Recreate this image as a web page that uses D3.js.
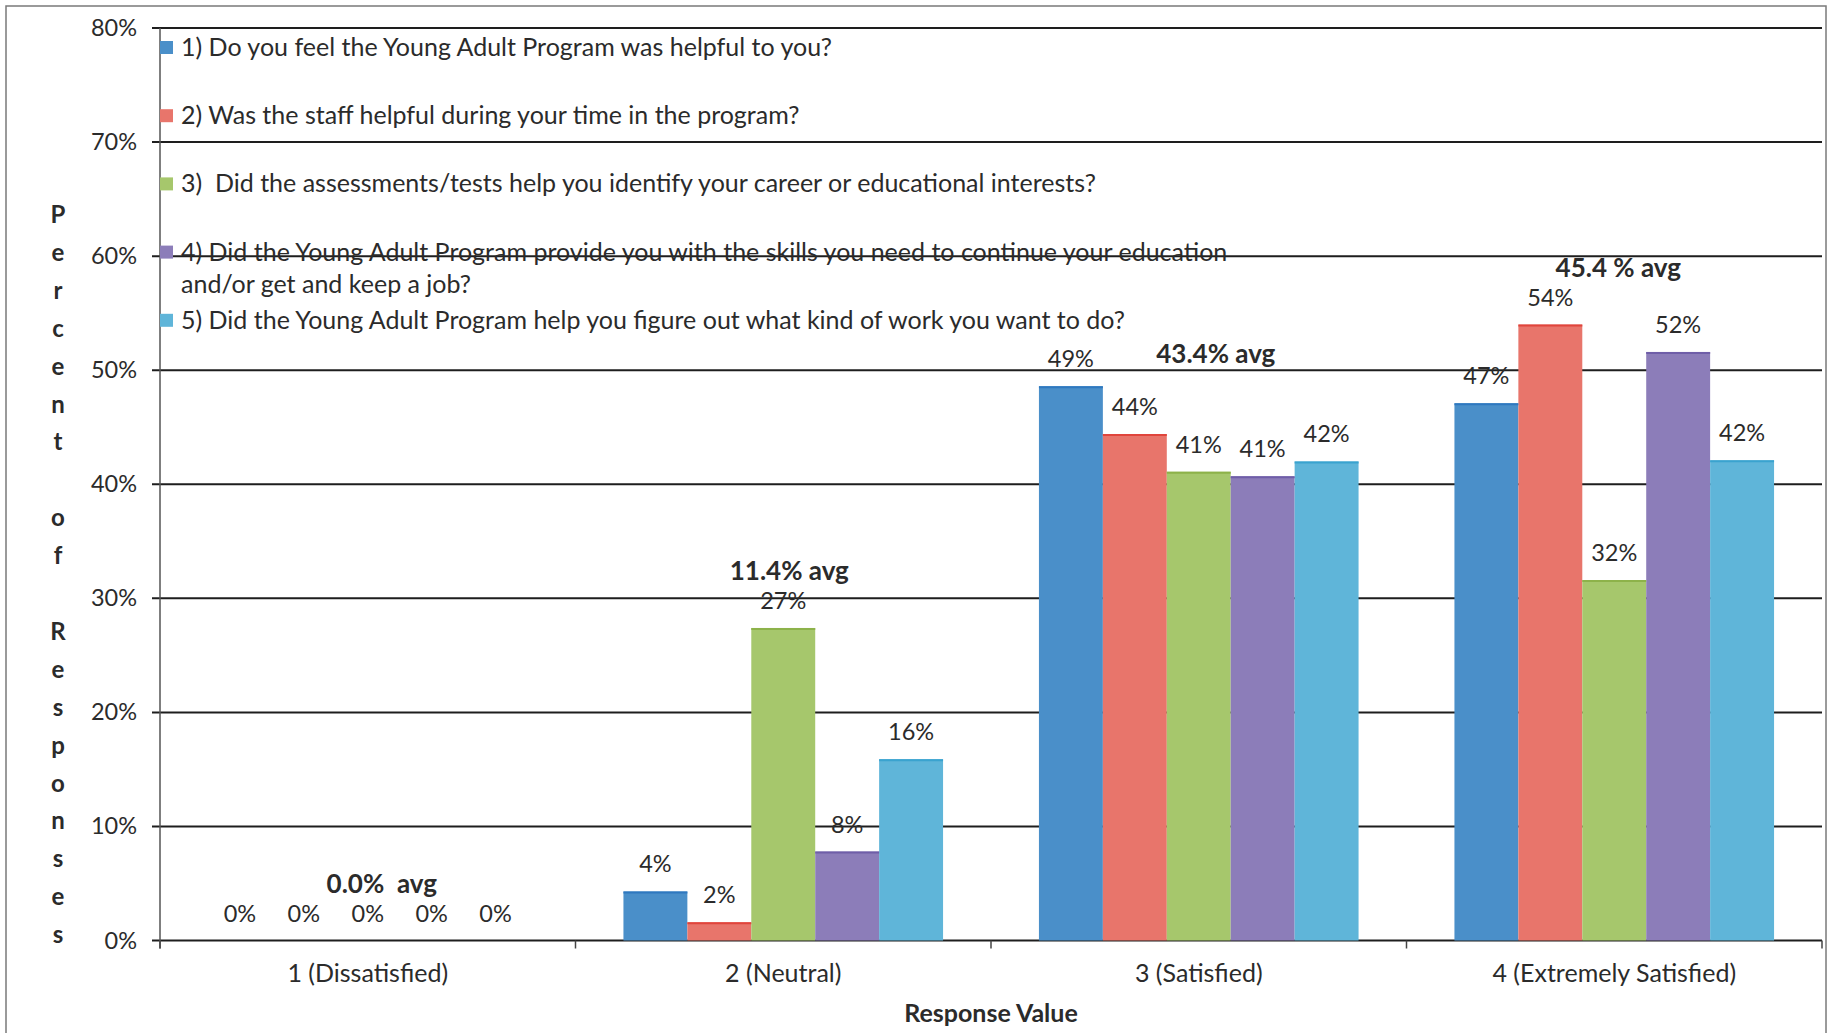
<!DOCTYPE html>
<html>
<head>
<meta charset="utf-8">
<script src="https://cdn.jsdelivr.net/npm/d3@7"></script>
<style>
  body { margin: 0; background: #fff; }
  text { font-family: Lato, "Noto Sans", sans-serif; fill: #2b2b2b; white-space: pre; }
</style>
</head>
<body>
<svg id="chart" width="1832" height="1033"></svg>
<script>
//chart data
var categories = ["1 (Dissatisfied)", "2 (Neutral)", "3 (Satisfied)", "4 (Extremely Satisfied)"];
var questions = [
    "1) Do you feel the Young Adult Program was helpful to you?",
    "2) Was the staff helpful during your time in the program?",
    "3)  Did the assessments/tests help you identify your career or educational interests?",
    "4) Did the Young Adult Program provide you with the skills you need to continue your education|and/or get and keep a job?",
    "5) Did the Young Adult Program help you figure out what kind of work you want to do?"
];
var q1 = [0, 4.3, 48.6, 47.1];
var q2 = [0, 1.6, 44.4, 54.0];
var q3 = [0, 27.4, 41.1, 31.6];
var q4 = [0, 7.8, 40.7, 51.6];
var q5 = [0, 15.9, 42.0, 42.1];
var avgLabels = ["0.0%  avg", "11.4% avg", "43.4% avg", "45.4 % avg"];
var yTicks = [0, 10, 20, 30, 40, 50, 60, 70, 80];
var yTitle = "Percent of Responses";
var xTitle = "Response Value";

var series = [q1, q2, q3, q4, q5];
var colors = ["#4a8fc9", "#e8756b", "#a6c76c", "#8c7db9", "#5fb5d9"];
var edges = ["#2f78bf", "#e0453c", "#8db24a", "#6f5ea8", "#3aa3cf"];

//layout
var plotLeft = 160, plotRight = 1822, plotTop = 28, plotBottom = 940.5;
var svg = d3.select("#chart");

var y = d3.scaleLinear().domain([0, 80]).range([plotBottom, plotTop]);
var x0 = d3.scaleBand().domain(categories).range([plotLeft, plotRight]);
var x1 = d3.scaleBand().domain(d3.range(series.length)).range([0, x0.bandwidth()]).paddingOuter(0.75);

//outer frame
svg.append("rect")
    .attr("x", 6).attr("y", 6)
    .attr("width", 1820).attr("height", 1100)
    .attr("fill", "none")
    .attr("stroke", "#7a7a7a")
    .attr("stroke-width", 1.5);

//gridlines
svg.append("g")
    .selectAll("line")
    .data(yTicks)
    .enter().append("line")
    .attr("x1", plotLeft - 8)
    .attr("x2", plotRight)
    .attr("y1", function(d) { return y(d); })
    .attr("y2", function(d) { return y(d); })
    .attr("stroke", "#1e1e1e")
    .attr("stroke-width", 2);

//y axis labels
svg.append("g")
    .selectAll("text")
    .data(yTicks)
    .enter().append("text")
    .attr("x", 137)
    .attr("y", function(d) { return y(d) + 8; })
    .attr("text-anchor", "end")
    .style("font-size", "23.5px")
    .text(function(d) { return d + "%"; });

//y axis line
svg.append("line")
    .attr("x1", plotLeft).attr("x2", plotLeft)
    .attr("y1", plotTop).attr("y2", plotBottom + 8)
    .attr("stroke", "#555")
    .attr("stroke-width", 1.5);

//category ticks on the base line
var catEdges = categories.map(function(c) { return x0(c); }).concat([plotRight]);
svg.append("g")
    .selectAll("line")
    .data(catEdges)
    .enter().append("line")
    .attr("x1", function(d) { return d; })
    .attr("x2", function(d) { return d; })
    .attr("y1", plotBottom)
    .attr("y2", plotBottom + 8)
    .attr("stroke", "#444")
    .attr("stroke-width", 1.5);

//legend
var legend = svg.append("g");
questions.forEach(function(q, i) {
    var cy = 47 + i * 68.2;
    legend.append("rect")
        .attr("x", plotLeft).attr("y", cy - 6)
        .attr("width", 13).attr("height", 13)
        .attr("fill", colors[i]);
    var parts = q.split("|");
    parts.forEach(function(p, k) {
        legend.append("text")
            .attr("x", 181)
            .attr("y", cy + 9 + k * 32)
            .style("font-size", "25px")
            .text(p);
    });
});

//bars
var groups = svg.append("g")
    .selectAll("g")
    .data(categories)
    .enter().append("g")
    .attr("transform", function(d) { return "translate(" + x0(d) + ",0)"; });

function cells(d, ci) {
    return series.map(function(s, si) { return {s: si, v: s[ci]}; });
}

groups.selectAll("rect")
    .data(cells)
    .enter().append("rect")
    .attr("x", function(d) { return x1(d.s); })
    .attr("width", x1.bandwidth())
    .attr("y", function(d) { return y(d.v); })
    .attr("height", function(d) { return plotBottom - y(d.v); })
    .attr("fill", function(d) { return colors[d.s]; });

//darker top edge of each bar
groups.selectAll("line.edge")
    .data(cells)
    .enter().append("line")
    .attr("class", "edge")
    .attr("x1", function(d) { return x1(d.s); })
    .attr("x2", function(d) { return x1(d.s) + x1.bandwidth(); })
    .attr("y1", function(d) { return y(d.v) + 1; })
    .attr("y2", function(d) { return y(d.v) + 1; })
    .attr("stroke", function(d) { return d.v > 0 ? edges[d.s] : "none"; })
    .attr("stroke-width", 2);

//value labels
groups.selectAll("text")
    .data(cells)
    .enter().append("text")
    .attr("x", function(d) { return x1(d.s) + x1.bandwidth() / 2; })
    .attr("y", function(d) { return y(d.v) - 19; })
    .attr("text-anchor", "middle")
    .style("font-size", "23.5px")
    .text(function(d) { return Math.round(d.v) + "%"; });

//average labels, placed above the tallest bar of each group
var avgNudge = [[14, -57], [6, -57], [17, -32], [4, -57]];
svg.append("g")
    .selectAll("text")
    .data(categories)
    .enter().append("text")
    .attr("x", function(d, i) { return x0(d) + x0.bandwidth() / 2 + avgNudge[i][0]; })
    .attr("y", function(d, i) {
        var m = d3.max(series, function(s) { return s[i]; });
        return y(m) + avgNudge[i][1] + 9;
    })
    .attr("text-anchor", "middle")
    .style("font-size", "26px")
    .style("font-weight", "bold")
    .text(function(d, i) { return avgLabels[i]; });

//category labels
svg.append("g")
    .selectAll("text")
    .data(categories)
    .enter().append("text")
    .attr("x", function(d) { return x0(d) + x0.bandwidth() / 2; })
    .attr("y", 982)
    .attr("text-anchor", "middle")
    .style("font-size", "25px")
    .text(function(d) { return d; });

//x title
svg.append("text")
    .attr("x", (plotLeft + plotRight) / 2)
    .attr("y", 1022)
    .attr("text-anchor", "middle")
    .style("font-size", "25px")
    .style("font-weight", "bold")
    .text(xTitle);

//y title, one letter per row
svg.append("g")
    .selectAll("text")
    .data(yTitle.split(""))
    .enter().append("text")
    .attr("x", 58)
    .attr("y", function(d, i) { return 214 + i * 37.9 + 9; })
    .attr("text-anchor", "middle")
    .style("font-size", "24px")
    .style("font-weight", "bold")
    .text(function(d) { return d; });
</script>
</body>
</html>
